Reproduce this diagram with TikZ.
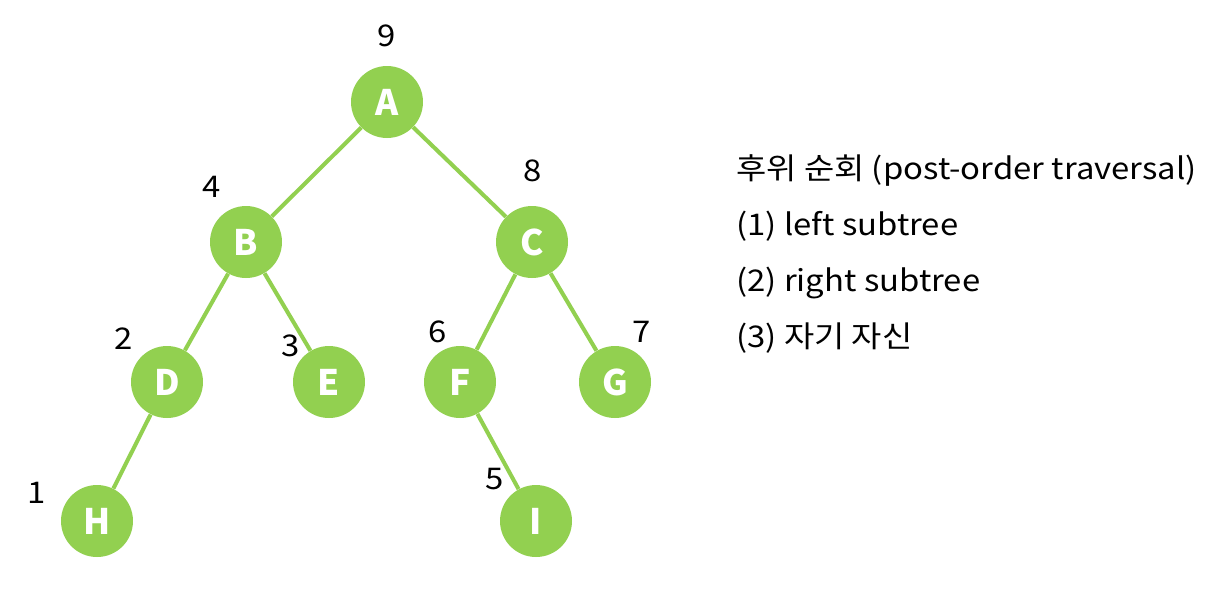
\documentclass[tikz,border=0pt]{standalone}
\usepackage{fontspec}
\setmainfont{Noto Sans CJK KR}
\newfontfamily\notefont[FakeStretch=1.1]{Noto Sans CJK KR}
\definecolor{tgreen}{RGB}{146,208,80}

\begin{document}
\begin{tikzpicture}[
  x=0.02cm, y=-0.02cm,
  vert/.style={circle, fill=tgreen, minimum size=1.44cm, inner sep=0pt, text=white, font=\fontsize{20}{24}\selectfont\bfseries},
  ord/.style={inner sep=0pt, font=\notefont\fontsize{17}{20}\selectfont},
  edge/.style={tgreen, line width=2.3pt},
  note/.style={anchor=base west, inner sep=0pt, font=\notefont\fontsize{17}{20}\selectfont},
]
\useasboundingbox (0,0) rectangle (1223,596);

% ---- tree nodes
\node[vert] (nA) at (387,102) {A};
\node[vert] (nB) at (246,242) {B};
\node[vert] (nC) at (532,242) {C};
\node[vert] (nD) at (167,382) {D};
\node[vert] (nE) at (329,382) {E};
\node[vert] (nF) at (460,382) {F};
\node[vert] (nG) at (615,382) {G};
\node[vert] (nH) at (97,521)  {H};
\node[vert] (nI) at (536,521) {I};

% ---- edges
\draw[edge] (nA) -- (nB);
\draw[edge] (nA) -- (nC);
\draw[edge] (nB) -- (nD);
\draw[edge] (nB) -- (nE);
\draw[edge] (nC) -- (nF);
\draw[edge] (nC) -- (nG);
\draw[edge] (nD) -- (nH);
\draw[edge] (nF) -- (nI);

% ---- visiting order
\node[ord] (o9) at (387,36)  {9};
\node[ord] (o4) at (212,187) {4};
\node[ord] (o8) at (533,171) {8};
\node[ord] (o2) at (124,339) {2};
\node[ord] (o3) at (291,346) {3};
\node[ord] (o6) at (438,332) {6};
\node[ord] (o7) at (642,332) {7};
\node[ord] (o1) at (37,493)  {1};
\node[ord] (o5) at (495,479) {5};

% ---- notes
\node[note] (t0) at (736,179) {후위 순회 (post-order traversal)};
\node[note] (t1) at (736,235) {(1) left subtree};
\node[note] (t2) at (736,291) {(2) right subtree};
\node[note] (t3) at (736,347) {(3) 자기 자신};

\end{tikzpicture}
\end{document}
